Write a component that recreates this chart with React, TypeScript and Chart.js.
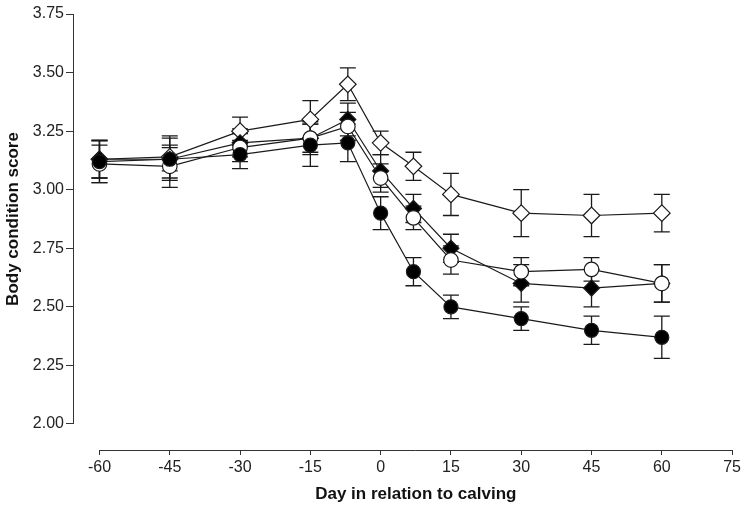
import React, { useEffect, useRef } from "react";
import { Chart, registerables } from "chart.js";

Chart.register(...registerables);

const days = [-60, -45, -30, -15, -7, 0, 7, 15, 30, 45, 60];
const xTicks = [-60, -45, -30, -15, 0, 15, 30, 45, 60, 75];
const yTicks = [2.0, 2.25, 2.5, 2.75, 3.0, 3.25, 3.5, 3.75];
const xTitle = "Day in relation to calving";
const yTitle = "Body condition score";

const openDiamond = [3.13, 3.14, 3.25, 3.3, 3.45, 3.2, 3.1, 2.98, 2.9, 2.89, 2.9];
const openDiamondErr = [0.08, 0.09, 0.06, 0.08, 0.07, 0.05, 0.06, 0.09, 0.1, 0.09, 0.08];
const filledDiamond = [3.13, 3.13, 3.2, 3.22, 3.3, 3.08, 2.92, 2.75, 2.6, 2.58, 2.6];
const filledDiamondErr = [0.08, 0.05, 0.06, 0.07, 0.07, 0.07, 0.06, 0.06, 0.08, 0.08, 0.08];
const openCircle = [3.11, 3.1, 3.18, 3.22, 3.27, 3.05, 2.88, 2.7, 2.65, 2.66, 2.6];
const openCircleErr = [0.08, 0.09, 0.06, 0.06, 0.06, 0.06, 0.05, 0.06, 0.06, 0.05, 0.08];
const filledCircle = [3.12, 3.13, 3.15, 3.19, 3.2, 2.9, 2.65, 2.5, 2.45, 2.4, 2.37];
const filledCircleErr = [0.09, 0.09, 0.06, 0.09, 0.08, 0.07, 0.06, 0.05, 0.05, 0.06, 0.09];

const INK = "#1a1a1a";
const AXIS = "#333333";
const FONT = "'Liberation Sans', Arial, Helvetica, sans-serif";

const mk = (vals: number[]) => days.map((d, i) => ({ x: d, y: vals[i] }));

const errorBars: any = {
  id: "errorBars",
  beforeDatasetsDraw(chart: any) {
    const { ctx, scales } = chart;
    const xs = scales.x;
    const ys = scales.y;
    ctx.save();
    ctx.strokeStyle = INK;
    ctx.lineWidth = 1.3;
    chart.data.datasets.forEach((ds: any) => {
      const errs: number[] = ds.errors;
      ds.data.forEach((p: any, i: number) => {
        const x = xs.getPixelForValue(p.x);
        const yt = ys.getPixelForValue(p.y + errs[i]);
        const yb = ys.getPixelForValue(p.y - errs[i]);
        const cap = 8;
        ctx.beginPath();
        ctx.moveTo(x, yt);
        ctx.lineTo(x, yb);
        ctx.moveTo(x - cap, yt);
        ctx.lineTo(x + cap, yt);
        ctx.moveTo(x - cap, yb);
        ctx.lineTo(x + cap, yb);
        ctx.stroke();
      });
    });
    ctx.restore();
  },
};

const axisLines: any = {
  id: "axisLines",
  afterDraw(chart: any) {
    const { ctx, scales, chartArea } = chart;
    const xs = scales.x;
    const ys = scales.y;
    ctx.save();
    ctx.strokeStyle = AXIS;
    ctx.lineWidth = 1;
    ctx.beginPath();
    const lx = Math.round(chartArea.left) + 0.5;
    const yTop = ys.getPixelForValue(yTicks[yTicks.length - 1]);
    const yBot = ys.getPixelForValue(yTicks[0]);
    ctx.moveTo(lx, yTop);
    ctx.lineTo(lx, yBot);
    const by = Math.round(chartArea.bottom) + 0.5;
    const xL = xs.getPixelForValue(xTicks[0]);
    const xR = xs.getPixelForValue(xTicks[xTicks.length - 1]);
    ctx.moveTo(xL, by);
    ctx.lineTo(xR, by);
    ctx.stroke();

    ctx.fillStyle = "#111";
    ctx.font = `bold 17px ${FONT}`;
    ctx.textAlign = "center";
    ctx.textBaseline = "middle";
    ctx.fillText(xTitle, (xL + xR) / 2, 494);
    ctx.translate(13, (yTop + yBot) / 2);
    ctx.rotate(-Math.PI / 2);
    ctx.fillText(yTitle, 0, 0);
    ctx.restore();
  },
};

export default function App() {
  const ref = useRef<HTMLCanvasElement | null>(null);

  useEffect(() => {
    if (!ref.current) return;
    const common = {
      borderColor: INK,
      borderWidth: 1.2,
      pointBorderColor: INK,
      pointBorderWidth: 1.2,
      tension: 0,
      fill: false,
    };
    const chart = new Chart(ref.current, {
      type: "line",
      data: {
        datasets: [
          {
            ...common,
            label: "Filled circle",
            data: mk(filledCircle),
            errors: filledCircleErr,
            pointStyle: "circle",
            pointRadius: 7,
            pointBackgroundColor: "#000",
          } as any,
          {
            ...common,
            label: "Open circle",
            data: mk(openCircle),
            errors: openCircleErr,
            pointStyle: "circle",
            pointRadius: 7.3,
            pointBackgroundColor: "#fff",
          } as any,
          {
            ...common,
            label: "Filled diamond",
            data: mk(filledDiamond),
            errors: filledDiamondErr,
            pointStyle: "rectRot",
            pointRadius: 8,
            pointBackgroundColor: "#000",
          } as any,
          {
            ...common,
            label: "Open diamond",
            data: mk(openDiamond),
            errors: openDiamondErr,
            pointStyle: "rectRot",
            pointRadius: 8.3,
            pointBackgroundColor: "#fff",
          } as any,
        ],
      },
      options: {
        animation: false,
        responsive: false,
        devicePixelRatio: 1,
        layout: { padding: { top: 14, right: 11, bottom: 0, left: 0 } },
        plugins: {
          legend: { display: false },
          tooltip: { enabled: false },
        },
        scales: {
          x: {
            type: "linear",
            min: -65.65,
            max: 75,
            afterBuildTicks: (s: any) => {
              s.ticks = xTicks.map((v) => ({ value: v }));
            },
            afterFit: (s: any) => {
              s.height = 56;
            },
            border: { display: false },
            grid: {
              display: true,
              drawOnChartArea: false,
              drawTicks: true,
              tickLength: 5,
              color: AXIS,
              lineWidth: 1,
            },
            ticks: {
              padding: 3,
              color: "#222",
              font: { family: FONT, size: 16 },
              maxRotation: 0,
              callback: (v: any) => String(v),
            },
            title: { display: false },
          },
          y: {
            type: "linear",
            min: 1.889,
            max: 3.75,
            afterBuildTicks: (s: any) => {
              s.ticks = yTicks.map((v) => ({ value: v }));
            },
            afterFit: (s: any) => {
              s.width = 73;
            },
            border: { display: false },
            grid: {
              display: true,
              drawOnChartArea: false,
              drawTicks: true,
              tickLength: 7,
              color: AXIS,
              lineWidth: 1,
            },
            ticks: {
              padding: 2,
              color: "#222",
              font: { family: FONT, size: 16 },
              callback: (v: any) => Number(v).toFixed(2),
            },
            title: { display: false },
          },
        },
      } as any,
      plugins: [errorBars, axisLines],
    });
    return () => chart.destroy();
  }, []);

  return (
    <div style={{ position: "absolute", left: 0, top: 0, width: 744, height: 506, background: "#fff" }}>
      <canvas ref={ref} width={744} height={506} style={{ display: "block" }} />
    </div>
  );
}
